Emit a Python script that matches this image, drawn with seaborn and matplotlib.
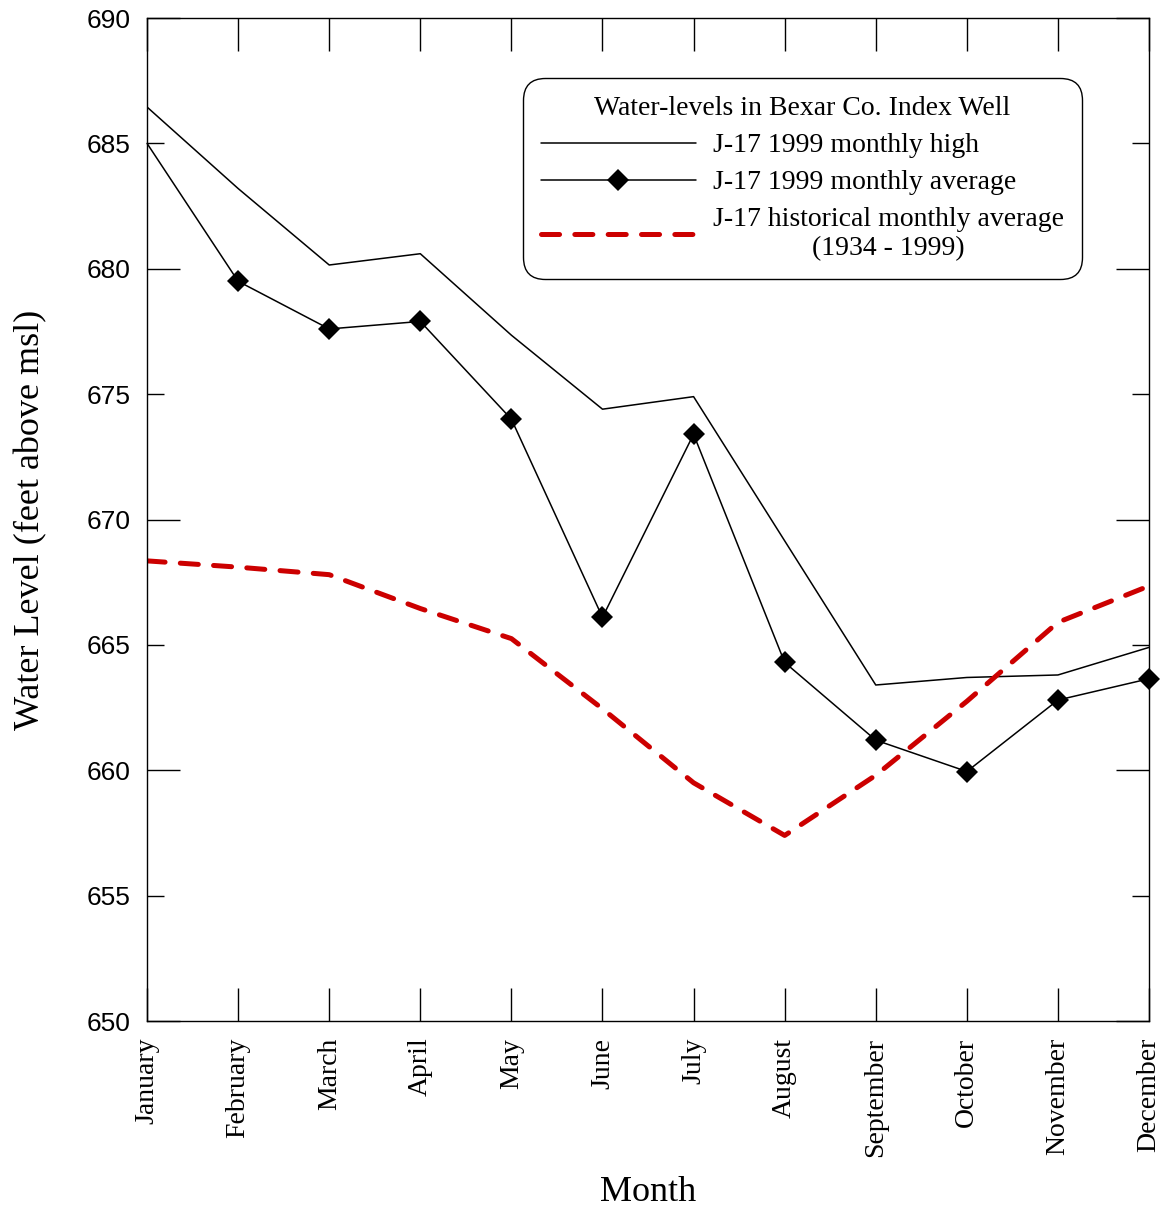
import numpy as np
import pandas as pd
import matplotlib
matplotlib.use("Agg")
import matplotlib.pyplot as plt
import seaborn as sns

# values (feet above msl)
months = ["January", "February", "March", "April", "May", "June", "July",
          "August", "September", "October", "November", "December"]
monthly_high = [686.45, 683.2, 680.15, 680.6, 677.35, 674.4, 674.9,
                669.15, 663.4, 663.7, 663.8, 664.9]
monthly_avg = [685.0, 679.5, 677.6, 677.9, 674.0, 666.1, 673.4,
               664.3, 661.2, 659.95, 662.8, 663.65]
hist_avg = [668.35, 668.1, 667.8, 666.45, 665.25, 662.45, 659.5,
            657.4, 659.8, 662.75, 665.9, 667.35]
y_ticks = [650, 655, 660, 665, 670, 675, 680, 685, 690]

sns.set_theme(style="white")
plt.rcParams["font.family"] = ["Liberation Serif", "DejaVu Serif"]
plt.rcParams["lines.scale_dashes"] = False
plt.rcParams["text.color"] = "black"
plt.rcParams["axes.labelcolor"] = "black"
plt.rcParams["xtick.color"] = "black"
plt.rcParams["ytick.color"] = "black"

df = pd.DataFrame({
    "month": np.arange(len(months)),
    "high": monthly_high,
    "avg": monthly_avg,
    "hist": hist_avg,
})

fig = plt.figure(figsize=(11.67, 12.09), dpi=100)
ax = fig.add_axes([0.126, 0.1555, 0.8586, 0.8296])

sns.lineplot(data=df, x="month", y="high", ax=ax, color="black", lw=1.1,
             label="J-17 1999 monthly high")
sns.lineplot(data=df, x="month", y="avg", ax=ax, color="black", lw=1.1,
             marker="D", markersize=11, markeredgewidth=0,
             markevery=list(range(1, 12)), clip_on=False,
             label="J-17 1999 monthly average")
sns.lineplot(data=df, x="month", y="hist", ax=ax, color="#cc0000", lw=3.6,
             label="J-17 historical monthly average\n(1934 - 1999)")
ax.lines[-1].set_dashes((13, 11))
ax.lines[-1].set_dash_capstyle("round")

ax.set_xlim(0, 11)
ax.set_ylim(650, 690)
ax.set_xticks(df["month"])
ax.set_xticklabels(months, rotation=90, fontsize=20)
ax.set_yticks(y_ticks)
ax.set_yticklabels([str(v) for v in y_ticks], fontsize=19, family="Liberation Sans")

ax.tick_params(axis="x", direction="in", length=24, width=1,
               top=True, bottom=True, pad=12)
ax.tick_params(axis="y", direction="in", length=12, width=1,
               left=True, right=True, pad=12)
# longer ticks at every 10 ft
for t, v in zip(ax.yaxis.get_major_ticks(), y_ticks):
    if v % 10 == 0:
        t.tick1line.set_markersize(24)
        t.tick2line.set_markersize(24)

for s in ax.spines.values():
    s.set_color("black")
    s.set_linewidth(1)

ax.set_xlabel("Month", fontsize=26, labelpad=14)
ax.set_ylabel("Water Level (feet above msl)", fontsize=26, labelpad=28)

leg = ax.legend(title="Water-levels in Bexar Co. Index Well", loc="upper right",
                bbox_to_anchor=(0.933, 0.940), borderaxespad=0, fontsize=20,
                title_fontsize=20, handlelength=5.6, handletextpad=0.6,
                labelspacing=0.42, fancybox=True, frameon=True, framealpha=1,
                edgecolor="black", borderpad=0.65)
leg.get_frame().set_linewidth(1)
leg.get_frame().set_boxstyle("round,pad=0,rounding_size=0.8")
for txt in leg.get_texts():
    txt.set_multialignment("center")

fig.savefig("out.png", dpi=100)
